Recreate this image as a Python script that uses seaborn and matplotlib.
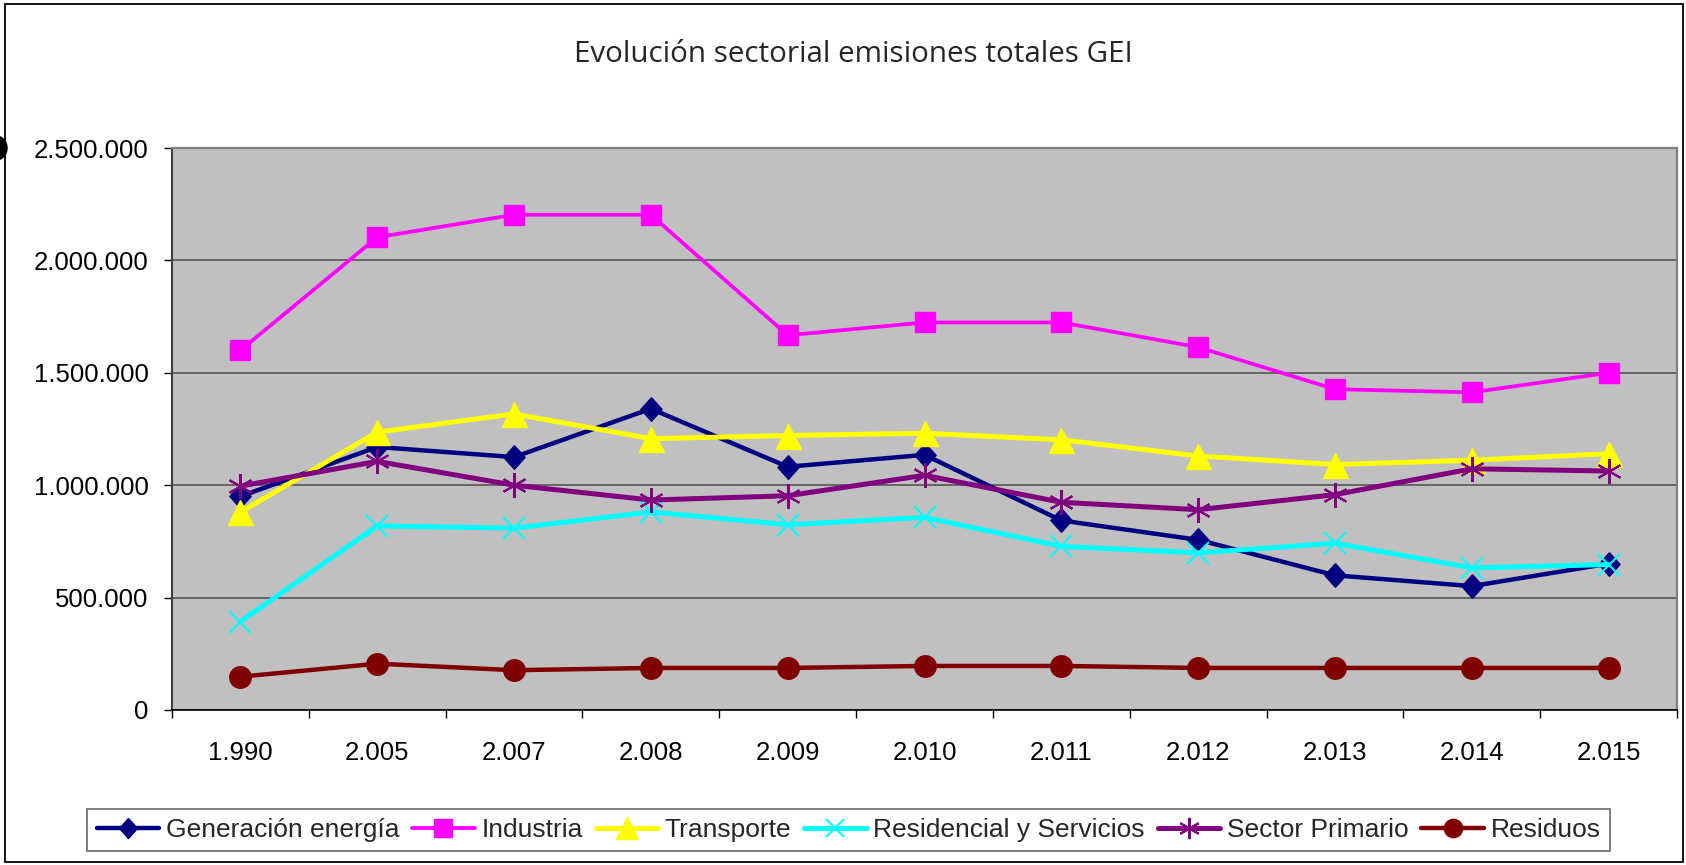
import numpy as np
import pandas as pd
import seaborn as sns
import matplotlib.pyplot as plt
from matplotlib.ticker import FuncFormatter, FixedLocator
from matplotlib.patches import Rectangle, Ellipse

# datos (t CO2 eq)
years = ['1.990', '2.005', '2.007', '2.008', '2.009', '2.010',
         '2.011', '2.012', '2.013', '2.014', '2.015']
generacion = [950000, 1170000, 1125000, 1340000, 1082000, 1135000,
              843000, 757000, 599000, 551000, 651000]
industria = [1600000, 2103000, 2203000, 2203000, 1667000, 1724000,
             1724000, 1614000, 1427000, 1413000, 1500000]
transporte = [880000, 1236000, 1317000, 1207000, 1221000, 1231000,
              1202000, 1130000, 1092000, 1111000, 1140000]
residencial = [393000, 819000, 809000, 881000, 824000, 857000,
               728000, 699000, 742000, 632000, 647000]
primario = [996000, 1106000, 1000000, 934000, 953000, 1044000,
            924000, 891000, 958000, 1073000, 1063000]
residuos = [148000, 206000, 177000, 187000, 187000, 196000,
            196000, 187000, 187000, 187000, 187000]

names = ['Generación energía', 'Industria', 'Transporte',
         'Residencial y Servicios', 'Sector Primario', 'Residuos']
series = [generacion, industria, transporte, residencial, primario, residuos]

diamond = [(0, 1), (0.9, 0), (0, -1), (-0.9, 0), (0, 1)]
styles = {
    'Generación energía': dict(color='#000080', marker=diamond, ms=17, lw=3.2, mew=1),
    'Industria': dict(color='#FF00FF', marker='s', ms=14.5, lw=2.7, mew=1),
    'Transporte': dict(color='#FFFF00', marker='^', ms=18, lw=3.6, mew=1),
    'Residencial y Servicios': dict(color='#00FFFF', marker='x', ms=16, lw=3.6, mew=1.5),
    'Sector Primario': dict(color='#800080', marker=(6, 2, 0), ms=18, lw=3.6, mew=1.5),
    'Residuos': dict(color='#800000', marker='o', ms=15.5, lw=3.2, mew=1),
}

rows = []
for name, vals in zip(names, series):
    for i, (yr, v) in enumerate(zip(years, vals)):
        rows.append({'serie': name, 'year': yr, 'pos': i, 'valor': v})
df = pd.DataFrame(rows)

sns.set_style('white')
plt.rcParams['font.family'] = ['Liberation Sans', 'DejaVu Sans']

fig = plt.figure(figsize=(16.86, 8.65), dpi=100)
ax = fig.add_axes([0.102, 0.1792, 0.8927, 0.6497])
ax.set_facecolor('#C0C0C0')

for name in names:
    st = styles[name]
    sub = df[df['serie'] == name]
    sns.lineplot(data=sub, x='pos', y='valor', ax=ax, color=st['color'],
                 marker=st['marker'], markersize=st['ms'], linewidth=st['lw'],
                 markeredgecolor=st['color'], markeredgewidth=st['mew'],
                 errorbar=None, label=name)

ax.set_xlim(-0.5, len(years) - 0.5)
ax.set_ylim(0, 2500000)
ax.set_yticks(np.arange(0, 2500001, 500000))
ax.yaxis.set_major_formatter(FuncFormatter(lambda v, p: f"{int(v):,}".replace(',', '.')))
ax.yaxis.grid(True, color='#4d4d4d', lw=1.1)
ax.set_axisbelow(True)

ax.set_xticks(range(len(years)))
ax.set_xticklabels(years)
ax.xaxis.set_minor_locator(FixedLocator(np.arange(-0.5, len(years), 1.0)))
ax.tick_params(axis='x', which='major', length=0, pad=22, labelsize=18.5, colors='black')
ax.tick_params(axis='x', which='minor', length=6, width=1, direction='out', color='black', bottom=True)
ax.tick_params(axis='y', length=5.8, width=1, direction='out', pad=11, labelsize=18.5,
               colors='black', left=True)
ax.set_xlabel('')
ax.set_ylabel('')

for side in ['top', 'right']:
    ax.spines[side].set_color('#808080')
    ax.spines[side].set_linewidth(1.6)
ax.spines['left'].set_color('#404040')
ax.spines['left'].set_linewidth(1.5)
ax.spines['bottom'].set_color('black')
ax.spines['bottom'].set_linewidth(1.2)

if ax.legend_:
    ax.legend_.remove()
handles, labels = ax.get_legend_handles_labels()
leg = fig.legend(handles, labels, loc='center', bbox_to_anchor=(0.5033, 0.0405),
                 ncol=6, fontsize=19, handlelength=2.37, handletextpad=0.25,
                 columnspacing=0.49, borderpad=0.35, markerscale=0.85,
                 frameon=True, fancybox=False, edgecolor='#404040')
leg.get_frame().set_linewidth(1.2)

fig.text(853 / 1686, 1 - 54 / 865, 'Evolución sectorial emisiones totales GEI',
         ha='center', va='center', fontsize=21.3, family=['Open Sans', 'DejaVu Sans'])

# marco exterior y punto negro a la izquierda
fig.patches.append(Rectangle((5 / 1686, 3 / 865), 1678 / 1686, 858 / 865,
                             transform=fig.transFigure, fill=False,
                             edgecolor='black', lw=1.3))
fig.patches.append(Ellipse((-4 / 1686, 1 - 148 / 865), 22 / 1686, 24 / 865,
                           transform=fig.transFigure, color='black', clip_on=False))

fig.savefig('out.png', dpi=100)
